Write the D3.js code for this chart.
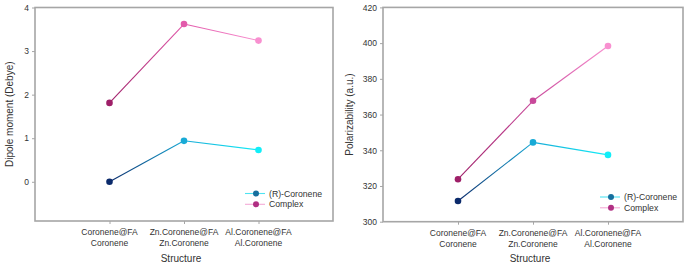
<!DOCTYPE html>
<html lang="en">
<head>
    <meta charset="UTF-8">
    <title>Dipole moment and polarizability</title>
    <script src="https://cdn.jsdelivr.net/npm/d3@7"></script>
    <style>
        body { margin: 0; background: #fff; }
        svg { display: block; font-family: "Liberation Sans", Arial, sans-serif; }
    </style>
</head>
<body>
<script>
    // categories (two-line tick labels)
    var categories = [
        ["Coronene@FA", "Coronene"],
        ["Zn.Coronene@FA", "Zn.Coronene"],
        ["Al.Coronene@FA", "Al.Coronene"]
    ];
    var seriesNames = ["(R)-Coronene", "Complex"];

    // left panel: dipole moment
    var dipoleR = [0, 0.94, 0.73];
    var dipoleComplex = [1.81, 3.62, 3.24];
    var dipoleTicks = [0, 1, 2, 3, 4];

    // right panel: polarizability
    var polarR = [311.6, 344.4, 337.4];
    var polarComplex = [323.8, 367.7, 398.4];
    var polarTicks = [300, 320, 340, 360, 380, 400, 420];

    // point colours, dark -> light along the series
    var colorsR = ["#0b2a6b", "#18aad6", "#12eef8"];
    var colorsComplex = ["#9e1f68", "#e25aab", "#f890d0"];
    var colorsComplex2 = ["#9e1f68", "#c8489a", "#f890d0"];

    var W = 685, H = 265;
    var svg = d3.select("body").append("svg")
        .attr("width", W)
        .attr("height", H);
    var defs = svg.append("defs");
    var gid = 0;

    function gradient(x1, y1, x2, y2, c1, c2) {
        var id = "g" + (gid++);
        var g = defs.append("linearGradient")
            .attr("id", id)
            .attr("gradientUnits", "userSpaceOnUse")
            .attr("x1", x1).attr("y1", y1)
            .attr("x2", x2).attr("y2", y2);
        g.append("stop").attr("offset", "0%").attr("stop-color", c1);
        g.append("stop").attr("offset", "100%").attr("stop-color", c2);
        return "url(#" + id + ")";
    }

    function panel(opt) {
        var x = d3.scaleLinear().domain([0, 4]).range([opt.left, opt.right]);
        var y = d3.scaleLinear().domain(opt.domain).range([opt.bottom, opt.top]);
        var g = svg.append("g");

        // frame
        g.append("rect")
            .attr("x", opt.left).attr("y", opt.top)
            .attr("width", opt.right - opt.left)
            .attr("height", opt.bottom - opt.top)
            .attr("fill", "none")
            .attr("stroke", "#a6a6a6")
            .attr("stroke-width", 1.6);

        // y axis
        var yAxis = g.append("g")
            .attr("transform", "translate(" + opt.left + ",0)")
            .call(d3.axisLeft(y).tickValues(opt.ticks).tickFormat(d3.format("d"))
                .tickSize(3).tickPadding(3));
        yAxis.select(".domain").remove();
        yAxis.selectAll("line").attr("stroke", "#a6a6a6");
        yAxis.selectAll("text").attr("font-size", "8.5px").attr("fill", "#333")
            .attr("font-family", "Liberation Sans, Arial, sans-serif");

        // x axis
        var xAxis = g.append("g")
            .attr("transform", "translate(0," + opt.bottom + ")")
            .call(d3.axisBottom(x).tickValues([1, 2, 3]).tickSize(3).tickFormat(""));
        xAxis.select(".domain").remove();
        xAxis.selectAll("line").attr("stroke", "#a6a6a6");

        categories.forEach(function (c, i) {
            var t = g.append("text")
                .attr("x", x(i + 1))
                .attr("y", opt.bottom + 14)
                .attr("text-anchor", "middle")
                .attr("font-size", "8.5px")
                .attr("fill", "#333");
            t.append("tspan").attr("x", x(i + 1)).attr("dy", 0).text(c[0]);
            t.append("tspan").attr("x", x(i + 1)).attr("dy", 11).text(c[1]);
        });

        g.append("text")
            .attr("x", (opt.left + opt.right) / 2 - 3)
            .attr("y", 262)
            .attr("text-anchor", "middle")
            .attr("font-size", "10px")
            .attr("fill", "#333")
            .text("Structure");

        g.append("text")
            .attr("transform", "translate(" + opt.ylabelX + "," + ((opt.top + opt.bottom) / 2) + ") rotate(-90)")
            .attr("text-anchor", "middle")
            .attr("font-size", "10px")
            .attr("fill", "#333")
            .text(opt.ylabel);

        // series
        opt.series.forEach(function (s) {
            for (var i = 0; i < s.values.length - 1; i++) {
                var x1 = x(i + 1), y1 = y(s.values[i]);
                var x2 = x(i + 2), y2 = y(s.values[i + 1]);
                g.append("line")
                    .attr("x1", x1).attr("y1", y1)
                    .attr("x2", x2).attr("y2", y2)
                    .attr("stroke", gradient(x1, y1, x2 + 0.01, y2, s.colors[i], s.colors[i + 1]))
                    .attr("stroke-width", 1.1);
            }
            g.selectAll(null)
                .data(s.values)
                .enter()
                .append("circle")
                .attr("cx", (d, i) => x(i + 1))
                .attr("cy", d => y(d))
                .attr("r", 3.3)
                .attr("fill", (d, i) => s.colors[i]);
        });

        // legend
        var lg = g.append("g").attr("transform", "translate(" + opt.legendX + "," + opt.legendY + ")");
        var legendLine = [
            ["#4fe3f2", "#1c4f8f", "#166f9e"],
            ["#f4a9d6", "#a3236c", "#b02f83"]
        ];
        seriesNames.forEach(function (n, i) {
            var yy = i * 10.8;
            lg.append("line")
                .attr("x1", 0).attr("y1", yy).attr("x2", 20).attr("y2", yy)
                .attr("stroke", gradient(opt.legendX, 0, opt.legendX + 20, 0, legendLine[i][0], legendLine[i][1]))
                .attr("stroke-width", 1.1);
            lg.append("circle")
                .attr("cx", 11).attr("cy", yy).attr("r", 3)
                .attr("fill", legendLine[i][2]);
            lg.append("text")
                .attr("x", 24).attr("y", yy + 3)
                .attr("font-size", "8.7px")
                .attr("fill", "#333")
                .text(n);
        });
    }

    panel({
        left: 35, right: 333, top: 7.5, bottom: 221,
        domain: [-0.9, 4], ticks: dipoleTicks,
        ylabel: "Dipole moment (Debye)", ylabelX: 13,
        legendX: 245, legendY: 193.5,
        series: [
            {values: dipoleR, colors: colorsR},
            {values: dipoleComplex, colors: colorsComplex}
        ]
    });

    panel({
        left: 383, right: 683, top: 7.4, bottom: 221.7,
        domain: [300, 420], ticks: polarTicks,
        ylabel: "Polarizability (a.u.)", ylabelX: 353,
        legendX: 600, legendY: 197,
        series: [
            {values: polarR, colors: colorsR},
            {values: polarComplex, colors: colorsComplex2}
        ]
    });
</script>
</body>
</html>
